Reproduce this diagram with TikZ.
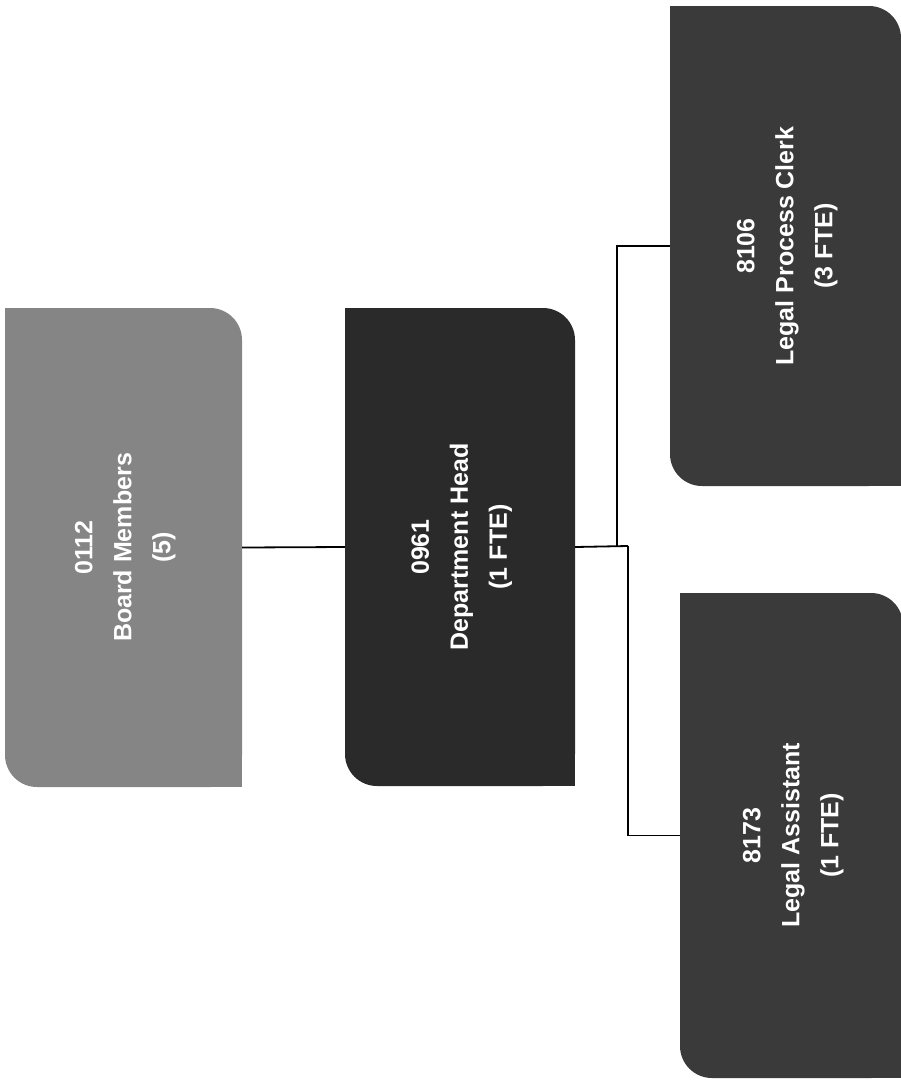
\documentclass[tikz,border=0pt]{standalone}
\usepackage{fontspec}
\setmainfont{Liberation Sans}
\usepackage{graphicx}
\definecolor{boardgray}{HTML}{858585}
\definecolor{headgray}{HTML}{2A2A2A}
\definecolor{staffgray}{HTML}{3A3A3A}
\begin{document}
\begin{tikzpicture}[x=1pt,y=-1pt]
\tikzset{
  orgbox/.style={inner sep=0pt, rounded corners=32pt, text=white,
    font=\bfseries\fontsize{25}{39}\selectfont, align=center},
  link/.style={line width=1.8pt, draw=black},
}
\useasboundingbox[fill=white] (0,0) rectangle (901,1080);
% boxes
\node[orgbox, fill=boardgray, minimum width=237pt, minimum height=479pt] (board) at (123.5,547.5)
  {\rotatebox{90}{\begin{tabular}{@{}c@{}}0112\\Board Members\\(5)\end{tabular}}};
\node[orgbox, fill=headgray, minimum width=230pt, minimum height=478pt] (head) at (460,547)
  {\rotatebox{90}{\begin{tabular}{@{}c@{}}0961\\Department Head\\(1 FTE)\end{tabular}}};
\node[orgbox, fill=staffgray, minimum width=231pt, minimum height=480pt] (clerk) at (785.5,246)
  {\rotatebox{90}{\begin{tabular}{@{}c@{}}8106\\Legal Process Clerk\\(3 FTE)\end{tabular}}};
\node[orgbox, fill=staffgray, minimum width=223pt, minimum height=485pt] (assist) at (791.5,835.5)
  {\rotatebox{90}{\begin{tabular}{@{}c@{}}8173\\Legal Assistant\\(1 FTE)\end{tabular}}};
% sharp corners (top-left and bottom-right)
\fill[boardgray] (board.north west) rectangle ++(32,32);
\fill[boardgray] (board.south east) rectangle ++(-32,-32);
\fill[headgray] (head.north west) rectangle ++(32,32);
\fill[headgray] (head.south east) rectangle ++(-32,-32);
\fill[staffgray] (clerk.north west) rectangle ++(32,32);
\fill[staffgray] (clerk.south east) rectangle ++(-32,-32);
\fill[staffgray] (assist.north west) rectangle ++(32,32);
\fill[staffgray] (assist.south east) rectangle ++(-32,-32);
% connectors
\coordinate (jup) at (617,546);
\coordinate (jdown) at (628,546);
\draw[link] (board.east) -- (head.west);
\draw[link] (head.east) -- (jdown);
\draw[link] (jup) |- (clerk.west);
\draw[link] (jdown) |- (assist.west);
\end{tikzpicture}
\end{document}
